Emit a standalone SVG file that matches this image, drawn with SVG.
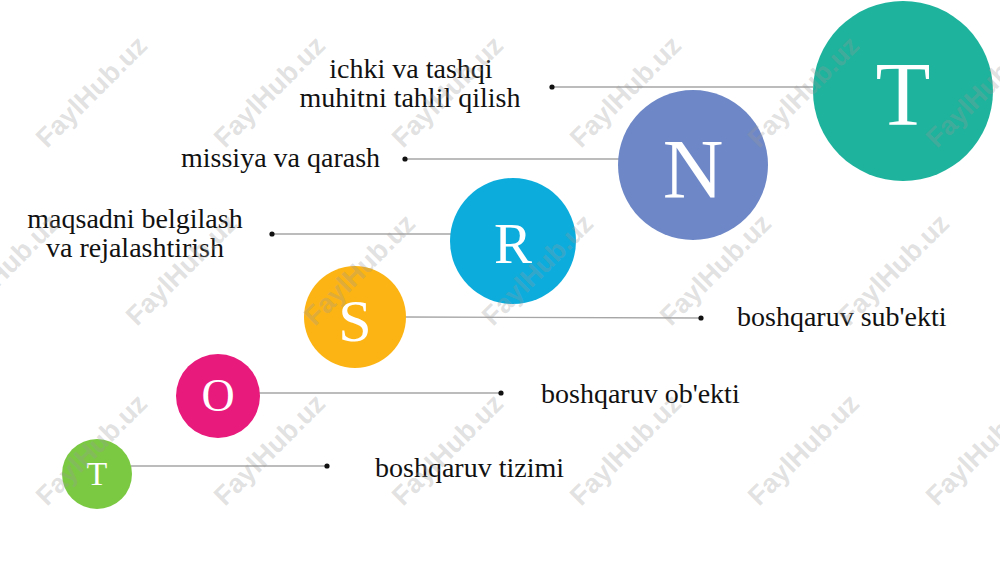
<svg xmlns="http://www.w3.org/2000/svg" width="1000" height="561" viewBox="0 0 1000 561">
<style>
.lbl{font-family:"Liberation Serif","Times New Roman",serif;font-size:28px;fill:#111}
.let{font-family:"Liberation Serif","Times New Roman",serif;fill:#fff;text-anchor:middle}
.ln{stroke:#a6a6a6;stroke-width:1.3;fill:none}
.dot{fill:#111}
.wm{font-family:"Liberation Sans",Arial,sans-serif;font-size:27px;font-weight:bold;fill:#9a9a9a;fill-opacity:0.3;text-anchor:middle}
</style>
<rect width="1000" height="561" fill="#fff"/>
<g id="connectors">
<line class="ln" x1="552" y1="87" x2="813" y2="87"/><circle class="dot" cx="552" cy="87" r="2.6"/>
<line class="ln" x1="405" y1="159" x2="620" y2="159"/><circle class="dot" cx="405" cy="159" r="2.6"/>
<line class="ln" x1="272" y1="234" x2="452" y2="234"/><circle class="dot" cx="272" cy="234" r="2.6"/>
<line class="ln" x1="405" y1="317" x2="701" y2="318"/><circle class="dot" cx="701" cy="318" r="2.6"/>
<line class="ln" x1="259" y1="393" x2="501" y2="393"/><circle class="dot" cx="501" cy="393" r="2.6"/>
<line class="ln" x1="131" y1="466" x2="327" y2="466"/><circle class="dot" cx="327" cy="466" r="2.6"/>
</g>
<g id="node-T-big"><circle cx="903" cy="91" r="90" fill="#1DB39C"/><text class="let" x="903" y="125" font-size="90">T</text></g>
<g id="node-N"><circle cx="693" cy="165" r="75" fill="#6E88C7"/><text class="let" x="693" y="198" font-size="84">N</text></g>
<g id="node-R"><circle cx="513" cy="241" r="63" fill="#0CADDD"/><text class="let" x="513" y="263" font-size="57">R</text></g>
<g id="node-S"><circle cx="355" cy="317" r="51" fill="#FCB414"/><text class="let" x="355" y="341" font-size="60">S</text></g>
<g id="node-O"><circle cx="218" cy="396" r="42" fill="#E81A7C"/><text class="let" x="218" y="411" font-size="46">O</text></g>
<g id="node-T-small"><circle cx="97" cy="474" r="35" fill="#7BC943"/><text class="let" x="97" y="485" font-size="34">T</text></g>
<g id="labels">
<text class="lbl" text-anchor="middle"><tspan x="411" y="78">ichki va tashqi</tspan><tspan x="410" y="107">muhitni tahlil qilish</tspan></text>
<text class="lbl" x="181" y="167">missiya va qarash</text>
<text class="lbl" text-anchor="middle"><tspan x="135" y="228">maqsadni belgilash</tspan><tspan x="135" y="257">va rejalashtirish</tspan></text>
<text class="lbl" x="737" y="326">boshqaruv sub'ekti</text>
<text class="lbl" x="541" y="403">boshqaruv ob'ekti</text>
<text class="lbl" x="375" y="477">boshqaruv tizimi</text>
</g>
<g id="watermarks">
<text class="wm" transform="translate(98,98) rotate(-45)">FaylHub.uz</text>
<text class="wm" transform="translate(276,98) rotate(-45)">FaylHub.uz</text>
<text class="wm" transform="translate(454,98) rotate(-45)">FaylHub.uz</text>
<text class="wm" transform="translate(632,98) rotate(-45)">FaylHub.uz</text>
<text class="wm" transform="translate(810,98) rotate(-45)">FaylHub.uz</text>
<text class="wm" transform="translate(988,98) rotate(-45)">FaylHub.uz</text>
<text class="wm" transform="translate(10,276) rotate(-45)">FaylHub.uz</text>
<text class="wm" transform="translate(188,276) rotate(-45)">FaylHub.uz</text>
<text class="wm" transform="translate(366,276) rotate(-45)">FaylHub.uz</text>
<text class="wm" transform="translate(544,276) rotate(-45)">FaylHub.uz</text>
<text class="wm" transform="translate(722,276) rotate(-45)">FaylHub.uz</text>
<text class="wm" transform="translate(900,276) rotate(-45)">FaylHub.uz</text>
<text class="wm" transform="translate(98,456) rotate(-45)">FaylHub.uz</text>
<text class="wm" transform="translate(276,456) rotate(-45)">FaylHub.uz</text>
<text class="wm" transform="translate(454,456) rotate(-45)">FaylHub.uz</text>
<text class="wm" transform="translate(632,456) rotate(-45)">FaylHub.uz</text>
<text class="wm" transform="translate(810,456) rotate(-45)">FaylHub.uz</text>
<text class="wm" transform="translate(988,456) rotate(-45)">FaylHub.uz</text>
</g>
</svg>
